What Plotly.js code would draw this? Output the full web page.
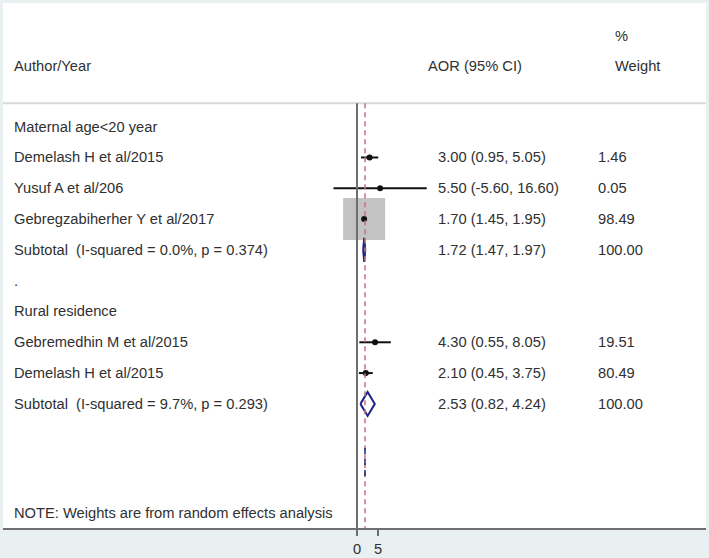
<!DOCTYPE html>
<html>
<head>
<meta charset="utf-8">
<script src="https://cdn.plot.ly/plotly-3.0.1.min.js"></script>
<style>
  html, body { margin: 0; padding: 0; background: #e9f0f2; }
  #chart { width: 709px; height: 558px; }
</style>
</head>
<body>
<div id="chart"></div>
<script>
// rows of the forest plot, top to bottom (row 1 .. 10)
var labels = [
    'Maternal age<20 year',
    'Demelash H et al/2015',
    'Yusuf A et al/206',
    'Gebregzabiherher Y et al/2017',
    'Subtotal\u00a0 (I-squared = 0.0%, p = 0.374)',
    '.',
    'Rural residence',
    'Gebremedhin M et al/2015',
    'Demelash H et al/2015',
    'Subtotal\u00a0 (I-squared = 9.7%, p = 0.293)'
];
var kind   = ['head', 'study', 'study', 'study', 'sub', 'blank', 'head', 'study', 'study', 'sub'];
var aor    = [null, 3.00, 5.50, 1.70, 1.72, null, null, 4.30, 2.10, 2.53];
var lower  = [null, 0.95, -5.60, 1.45, 1.47, null, null, 0.55, 0.45, 0.82];
var upper  = [null, 5.05, 16.60, 1.95, 1.97, null, null, 8.05, 3.75, 4.24];
var weight = [null, 1.46, 0.05, 98.49, 100.00, null, null, 19.51, 80.49, 100.00];
// weights behind the box sizes (overall analysis)
var boxWeight = [null, 1.46, 0.05, 98.49, null, null, null, 0.4, 1.2, null];
var overallAOR = 1.9;
var note = 'NOTE: Weights are from random effects analysis';

var rows = labels.map(function(_, i) { return i + 1; });

var txtFont = { family: 'Liberation Sans, Arial, sans-serif', size: 14.7, color: '#303030' };

// CI whiskers, boxes, points and subtotal diamonds
var ciX = [], ciY = [];
var boxX = [], boxY = [], boxS = [];
var ptX = [], ptY = [];
var dmX = [], dmY = [];
rows.forEach(function(r, i) {
    if (kind[i] === 'study') {
        ciX.push(lower[i], upper[i], null);
        ciY.push(r, r, null);
        boxX.push(aor[i]); boxY.push(r); boxS.push(4.232 * Math.sqrt(boxWeight[i]));
        ptX.push(aor[i]); ptY.push(r);
    } else if (kind[i] === 'sub') {
        dmX.push(lower[i], aor[i], upper[i], aor[i], lower[i], null);
        dmY.push(r, r - 0.39, r, r + 0.39, r, null);
    }
});

var data = [
    {
        x: boxX, y: boxY, type: 'scatter', mode: 'markers',
        marker: { symbol: 'square', size: boxS, color: '#a9a9a9', line: { width: 0 } },
        hoverinfo: 'skip'
    },
    {
        x: ciX, y: ciY, type: 'scatter', mode: 'lines',
        line: { color: '#111111', width: 2 }, hoverinfo: 'skip'
    },
    {
        x: ptX, y: ptY, type: 'scatter', mode: 'markers',
        marker: { symbol: 'circle', size: 6, color: '#111111' }, hoverinfo: 'skip'
    },
    {
        x: dmX, y: dmY, type: 'scatter', mode: 'lines',
        line: { color: '#1d2485', width: 2 }, hoverinfo: 'skip'
    }
];

var sepRow = 0.24;

var annotations = [];
function addText(x, y, text) {
    annotations.push({
        xref: 'paper', yref: 'y', x: x, y: y, text: text,
        xanchor: 'left', yanchor: 'middle', showarrow: false, font: txtFont
    });
}
addText(0.0125, -0.98, 'Author/Year');
addText(0.6017, -0.98, 'AOR (95% CI)');
addText(0.8677, -1.945, '%');
addText(0.8677, -0.98, 'Weight');
rows.forEach(function(r, i) {
    addText(0.0125, r, labels[i]);
    if (aor[i] !== null) {
        addText(0.6159, r, aor[i].toFixed(2) + ' (' + lower[i].toFixed(2) + ', ' + upper[i].toFixed(2) + ')');
        addText(0.8435, r, weight[i].toFixed(2));
    }
});
addText(0.0125, 13.55, note);

var shapes = [
    { type: 'line', xref: 'paper', yref: 'y', x0: 0, x1: 1, y0: sepRow, y1: sepRow,
      line: { color: '#d9d9d9', width: 2 } },
    { type: 'line', xref: 'x', yref: 'y', x0: 0, x1: 0, y0: sepRow, y1: 14.03,
      line: { color: '#6e6e6e', width: 2 } },
    { type: 'line', xref: 'x', yref: 'y', x0: overallAOR, x1: overallAOR, y0: sepRow, y1: 14.03,
      line: { color: '#c8707a', width: 1.5, dash: '5px,4px' } },
    { type: 'line', xref: 'x', yref: 'y', x0: overallAOR, x1: overallAOR, y0: 11.43, y1: 12.37,
      line: { color: '#1d2485', width: 1.5, dash: '6px,5px' } }
];

var layout = {
    width: 709,
    height: 558,
    margin: { l: 3, r: 3, t: 3, b: 30, pad: 0 },
    paper_bgcolor: '#e9f0f2',
    plot_bgcolor: '#ffffff',
    showlegend: false,
    hovermode: false,
    xaxis: {
        range: [-84.29, 83.1],
        tickvals: [0, 5],
        ticktext: ['0', '5'],
        ticks: 'outside',
        ticklen: 6,
        tickwidth: 2,
        tickcolor: '#6e6e6e',
        showline: true,
        linecolor: '#6e6e6e',
        linewidth: 2,
        showgrid: false,
        zeroline: false,
        tickfont: txtFont,
        fixedrange: true
    },
    yaxis: {
        range: [14.03, -3.016],
        visible: false,
        showgrid: false,
        zeroline: false,
        fixedrange: true
    },
    shapes: shapes,
    annotations: annotations
};

Plotly.newPlot('chart', data, layout, { displayModeBar: false, staticPlot: true });
</script>
</body>
</html>
